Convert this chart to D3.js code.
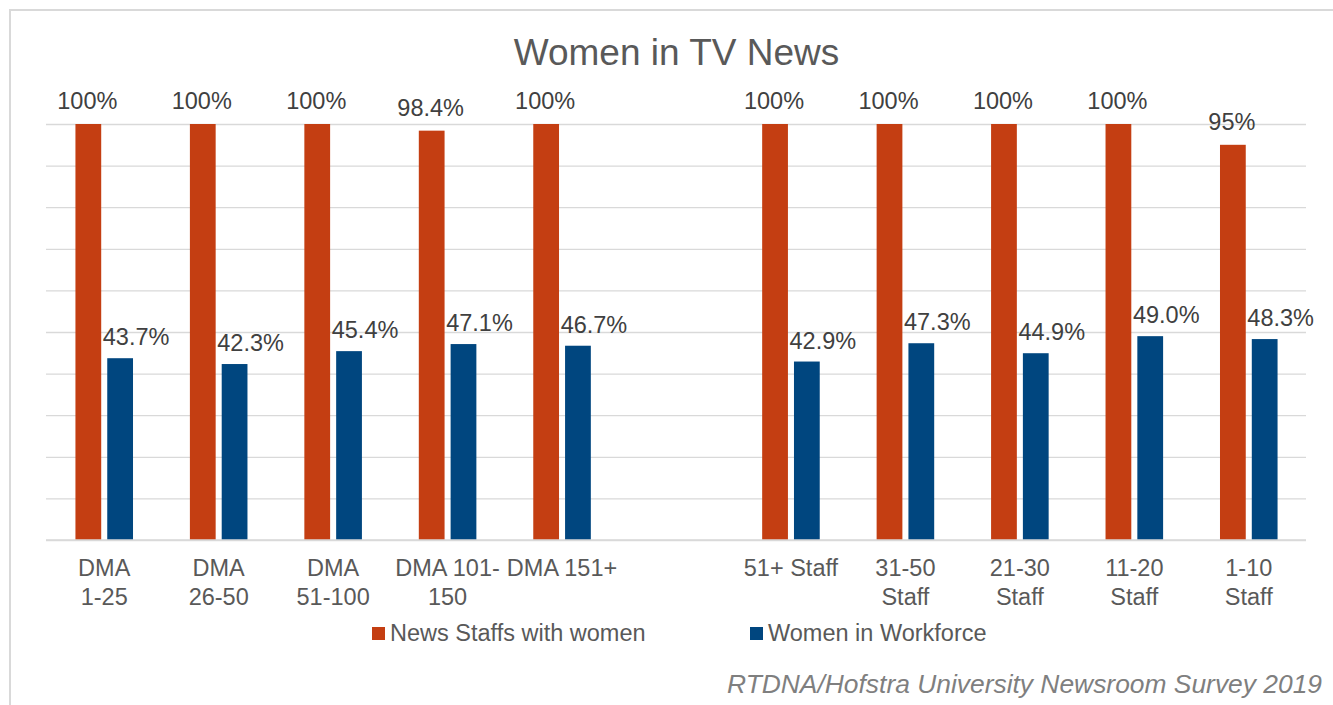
<!DOCTYPE html>
<html>
<head>
<meta charset="utf-8">
<script src="https://cdn.jsdelivr.net/npm/d3@7/dist/d3.min.js"></script>
<style>
  html, body { margin: 0; padding: 0; background: #fff; }
  svg { display: block; font-family: "Liberation Sans", Arial, sans-serif; }
</style>
</head>
<body>
<svg id="chart" width="1333" height="705"></svg>
<script>
// Category labels ("\n" marks a line break; the empty entry is the spacer between groups)
const categories = [
  "DMA\n1-25", "DMA\n26-50", "DMA\n51-100", "DMA 101-\n150", "DMA 151+",
  "",
  "51+ Staff", "31-50\nStaff", "21-30\nStaff", "11-20\nStaff", "1-10\nStaff"
];
const seriesNames = ["News Staffs with women", "Women in Workforce"];
const newsStaffsWithWomen = [100, 100, 100, 98.4, 100, null, 100, 100, 100, 100, 95];
const womenInWorkforce   = [43.7, 42.3, 45.4, 47.1, 46.7, null, 42.9, 47.3, 44.9, 49.0, 48.3];
const labelText = [
  ["100%", "100%", "100%", "98.4%", "100%", "", "100%", "100%", "100%", "100%", "95%"],
  ["43.7%", "42.3%", "45.4%", "47.1%", "46.7%", "", "42.9%", "47.3%", "44.9%", "49.0%", "48.3%"]
];
const yTicks = [0, 10, 20, 30, 40, 50, 60, 70, 80, 90, 100];
const colors = ["#C43E12", "#00467F"];

const svg = d3.select("#chart");
const plot = { left: 47, right: 1306, top: 124, bottom: 540 };

// outer chart border
svg.append("rect")
  .attr("x", 10).attr("y", 10).attr("width", 1340).attr("height", 720)
  .attr("fill", "#fff").attr("stroke", "#d9d9d9").attr("stroke-width", 2);

const x = d3.scaleBand()
  .domain(d3.range(categories.length))
  .range([plot.left, plot.right])
  .paddingInner(0.497)
  .paddingOuter(0.2485);

const xs = d3.scaleBand()
  .domain([0, 1])
  .range([0, x.bandwidth()])
  .paddingInner(0.19)
  .paddingOuter(0);

const y = d3.scaleLinear().domain([0, 100]).range([plot.bottom, plot.top]);

// horizontal gridlines
svg.append("g")
  .attr("transform", `translate(${plot.left - 1},0)`)
  .call(d3.axisLeft(y).tickValues(yTicks).tickSize(-(plot.right - plot.left + 1)).tickFormat(""))
  .call(g => g.select(".domain").remove())
  .call(g => g.selectAll(".tick line").attr("stroke", "#d9d9d9").attr("stroke-width", 1.3));

// title
svg.append("text")
  .attr("x", (plot.left + plot.right) / 2).attr("y", 65)
  .attr("text-anchor", "middle")
  .attr("font-size", 37).attr("fill", "#595959")
  .text("Women in TV News");

const series = [newsStaffsWithWomen, womenInWorkforce];

series.forEach((vals, si) => {
  const rows = vals.map((v, i) => ({ i, v })).filter(d => d.v != null);
  svg.append("g")
    .selectAll("rect")
    .data(rows)
    .join("rect")
    .attr("x", d => x(d.i) + xs(si))
    .attr("width", xs.bandwidth())
    .attr("y", d => y(d.v))
    .attr("height", d => y(0) - y(d.v))
    .attr("fill", colors[si]);

  // value labels; the workforce labels sit nudged to the right of their bars
  const dx = si === 0 ? -1 : 16;
  const dy = si === 0 ? -15 : -13;
  svg.append("g")
    .selectAll("text")
    .data(rows)
    .join("text")
    .attr("x", d => x(d.i) + xs(si) + xs.bandwidth() / 2 + dx)
    .attr("y", d => y(d.v) + dy)
    .attr("text-anchor", "middle")
    .attr("font-size", 23.5)
    .attr("fill", "#404040")
    .text(d => labelText[si][d.i]);
});

// category axis line
svg.append("line")
  .attr("x1", plot.left - 1).attr("x2", plot.right)
  .attr("y1", y(0)).attr("y2", y(0))
  .attr("stroke", "#d9d9d9").attr("stroke-width", 1.5);

// category labels
const catG = svg.append("g");
categories.forEach((c, i) => {
  if (!c) return;
  const t = catG.append("text")
    .attr("x", x(i) + x.bandwidth() / 2)
    .attr("y", 576)
    .attr("text-anchor", "middle")
    .attr("font-size", 23.5)
    .attr("fill", "#595959");
  c.split("\n").forEach((line, li) => {
    t.append("tspan")
      .attr("x", x(i) + x.bandwidth() / 2)
      .attr("dy", li === 0 ? 0 : 29)
      .text(line);
  });
});

// legend
const legendX = [372, 750];
seriesNames.forEach((name, si) => {
  const g = svg.append("g").attr("transform", `translate(${legendX[si]},627)`);
  g.append("rect").attr("width", 13).attr("height", 13).attr("fill", colors[si]);
  g.append("text")
    .attr("x", 18).attr("y", 14)
    .attr("font-size", 23.5).attr("fill", "#595959")
    .text(name);
});

// source note
svg.append("text")
  .attr("x", 1322).attr("y", 693)
  .attr("text-anchor", "end")
  .attr("font-size", 26.4).attr("font-style", "italic")
  .attr("fill", "#7f7f7f")
  .text("RTDNA/Hofstra University Newsroom Survey 2019");
</script>
</body>
</html>
